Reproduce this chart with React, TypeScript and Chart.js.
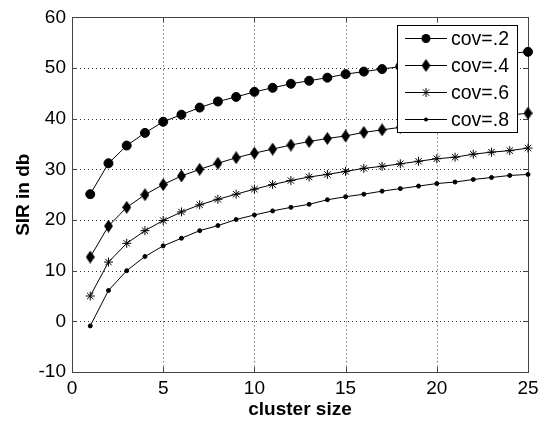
import React, { useEffect, useRef } from "react";
import { Chart, registerables } from "chart.js";

Chart.register(...registerables);

const clusterSizes = [1, 2, 3, 4, 5, 6, 7, 8, 9, 10, 11, 12, 13, 14, 15, 16, 17, 18, 19, 20, 21, 22, 23, 24, 25];
const cov2 = [25.1, 31.2, 34.7, 37.2, 39.4, 40.8, 42.2, 43.4, 44.3, 45.3, 46.1, 46.9, 47.5, 48.1, 48.8, 49.3, 49.8, 50.3, 50.8, 51.3, 51.7, 52.1, 52.5, 52.9, 53.2];
const cov4 = [12.7, 18.8, 22.5, 25.0, 27.0, 28.7, 30.0, 31.2, 32.3, 33.2, 34.0, 34.8, 35.5, 36.1, 36.6, 37.3, 37.8, 38.3, 38.8, 39.2, 39.6, 40.0, 40.4, 40.7, 41.1];
const cov6 = [5.0, 11.7, 15.4, 17.9, 19.9, 21.6, 23.0, 24.1, 25.1, 26.1, 27.0, 27.8, 28.5, 29.0, 29.6, 30.2, 30.6, 31.1, 31.6, 32.1, 32.4, 33.0, 33.4, 33.7, 34.2];
const cov8 = [-0.9, 6.1, 10.0, 12.8, 14.9, 16.4, 17.9, 18.9, 20.1, 21.0, 21.8, 22.5, 23.1, 24.0, 24.6, 25.1, 25.7, 26.2, 26.7, 27.2, 27.5, 28.0, 28.4, 28.8, 29.0];
const seriesLabels = ["cov=.2", "cov=.4", "cov=.6", "cov=.8"];
const xTicks = [0, 5, 10, 15, 20, 25];
const yTicks = [-10, 0, 10, 20, 30, 40, 50, 60];
const xTitle = "cluster size";
const yTitle = "SIR in db";

const FONT = "'Liberation Sans', Arial, Helvetica, sans-serif";

function makeDiamond(): HTMLCanvasElement {
  const c = document.createElement("canvas");
  c.width = 9;
  c.height = 13;
  const g = c.getContext("2d")!;
  g.fillStyle = "#000";
  g.beginPath();
  g.moveTo(4.5, 0);
  g.lineTo(9, 6.5);
  g.lineTo(4.5, 13);
  g.lineTo(0, 6.5);
  g.closePath();
  g.fill();
  return c;
}

function drawMarker(ctx: CanvasRenderingContext2D, kind: number, x: number, y: number, diamond: HTMLCanvasElement) {
  ctx.save();
  ctx.fillStyle = "#000";
  ctx.strokeStyle = "#000";
  ctx.lineWidth = 1;
  if (kind === 0) {
    ctx.beginPath();
    ctx.arc(x, y, 4.5, 0, Math.PI * 2);
    ctx.fill();
  } else if (kind === 1) {
    ctx.drawImage(diamond, x - diamond.width / 2, y - diamond.height / 2);
  } else if (kind === 2) {
    const r = 4.5;
    ctx.beginPath();
    ctx.moveTo(x - r, y);
    ctx.lineTo(x + r, y);
    ctx.moveTo(x, y - r);
    ctx.lineTo(x, y + r);
    const d = r * Math.SQRT1_2;
    ctx.moveTo(x - d, y - d);
    ctx.lineTo(x + d, y + d);
    ctx.moveTo(x - d, y + d);
    ctx.lineTo(x + d, y - d);
    ctx.stroke();
  } else {
    ctx.beginPath();
    ctx.arc(x, y, 2, 0, Math.PI * 2);
    ctx.fill();
  }
  ctx.restore();
}

export default function App() {
  const ref = useRef<HTMLCanvasElement | null>(null);

  useEffect(() => {
    if (!ref.current) return;
    const diamond = makeDiamond();
    const allSeries = [cov2, cov4, cov6, cov8];
    const styles: any[] = ["circle", diamond, "star", "circle"];
    const radii = [4.5, 5, 4.5, 2];

    const datasets = allSeries.map((s, i) => ({
      label: seriesLabels[i],
      data: clusterSizes.map((c, j) => ({ x: c, y: s[j] })),
      borderColor: "#000",
      backgroundColor: "#000",
      borderWidth: 1,
      pointStyle: styles[i],
      pointRadius: radii[i],
      pointBorderColor: "#000",
      pointBackgroundColor: "#000",
      pointBorderWidth: 1,
      showLine: true,
      tension: 0,
      clip: false as any,
    }));

    const framePlugin = {
      id: "frame",
      beforeDatasetsDraw(chart: any) {
        const { ctx, chartArea } = chart;
        const { left, right, top, bottom } = chartArea;
        const xs = chart.scales.x;
        const ys = chart.scales.y;
        ctx.save();
        ctx.strokeStyle = "#333";
        ctx.lineWidth = 1;
        ctx.setLineDash([1, 3]);
        xTicks.forEach((v) => {
          const px = Math.round(xs.getPixelForValue(v)) + 0.5;
          if (v === xTicks[0] || v === xTicks[xTicks.length - 1]) return;
          ctx.beginPath();
          ctx.moveTo(px, top);
          ctx.lineTo(px, bottom);
          ctx.stroke();
        });
        yTicks.forEach((v) => {
          const py = Math.round(ys.getPixelForValue(v)) + 0.5;
          if (v === yTicks[0] || v === yTicks[yTicks.length - 1]) return;
          ctx.beginPath();
          ctx.moveTo(left, py);
          ctx.lineTo(right, py);
          ctx.stroke();
        });
        ctx.setLineDash([]);
        ctx.strokeStyle = "#444";
        ctx.strokeRect(Math.round(left) + 0.5, Math.round(top) + 0.5, Math.round(right - left), Math.round(bottom - top));
        const tl = 5;
        xTicks.forEach((v) => {
          const px = Math.round(xs.getPixelForValue(v)) + 0.5;
          ctx.beginPath();
          ctx.moveTo(px, bottom);
          ctx.lineTo(px, bottom - tl);
          ctx.moveTo(px, top);
          ctx.lineTo(px, top + tl);
          ctx.stroke();
        });
        yTicks.forEach((v) => {
          const py = Math.round(ys.getPixelForValue(v)) + 0.5;
          ctx.beginPath();
          ctx.moveTo(left, py);
          ctx.lineTo(left + tl, py);
          ctx.moveTo(right, py);
          ctx.lineTo(right - tl, py);
          ctx.stroke();
        });
        ctx.restore();
      },
      afterDatasetsDraw(chart: any) {
        const { ctx, chartArea } = chart;
        const boxRight = chartArea.right - 11;
        const boxTop = chartArea.top + 8;
        const w = 120;
        const h = 107;
        const boxLeft = boxRight - w;
        ctx.save();
        ctx.fillStyle = "#fff";
        ctx.fillRect(boxLeft, boxTop, w, h);
        ctx.strokeStyle = "#000";
        ctx.lineWidth = 1;
        ctx.strokeRect(Math.round(boxLeft) + 0.5, Math.round(boxTop) + 0.5, w, h);
        ctx.font = `19.5px ${FONT}`;
        ctx.textBaseline = "middle";
        ctx.textAlign = "left";
        seriesLabels.forEach((lab, i) => {
          const yy = Math.round(boxTop + 13 + i * 27) + 0.5;
          ctx.strokeStyle = "#000";
          ctx.beginPath();
          ctx.moveTo(boxLeft + 8, yy);
          ctx.lineTo(boxLeft + 50, yy);
          ctx.stroke();
          drawMarker(ctx, i, boxLeft + 29, yy, diamond);
          ctx.fillStyle = "#000";
          ctx.fillText(lab, boxLeft + 54, yy + 1);
        });
        ctx.restore();
      },
    };

    const chart = new Chart(ref.current, {
      type: "line",
      data: { datasets },
      options: {
        animation: false,
        responsive: false,
        maintainAspectRatio: false,
        layout: { padding: { left: 0, right: 16, top: 15, bottom: 0 } },
        plugins: { legend: { display: false }, tooltip: { enabled: false } },
        scales: {
          x: {
            type: "linear",
            min: 0,
            max: 25,
            afterBuildTicks: (s: any) => {
              s.ticks = xTicks.map((v) => ({ value: v }));
            },
            afterFit: (s: any) => {
              s.height = 49;
            },
            grid: { display: false, drawTicks: false },
            border: { display: false },
            ticks: {
              color: "#000",
              font: { family: FONT, size: 19 },
              padding: 5,
              maxRotation: 0,
              autoSkip: false,
            },
            title: {
              display: true,
              text: xTitle,
              color: "#000",
              font: { family: FONT, size: 19, weight: "bold" },
              padding: { top: 0, bottom: 0 },
            },
          },
          y: {
            type: "linear",
            min: -10,
            max: 60,
            afterBuildTicks: (s: any) => {
              s.ticks = yTicks.map((v) => ({ value: v }));
            },
            afterFit: (s: any) => {
              s.width = 72;
            },
            grid: { display: false, drawTicks: false },
            border: { display: false },
            ticks: {
              color: "#000",
              font: { family: FONT, size: 19 },
              padding: 6,
              autoSkip: false,
            },
            title: {
              display: true,
              text: yTitle,
              color: "#000",
              font: { family: FONT, size: 19, weight: "bold" },
              padding: { top: 12, bottom: 0 },
            },
          },
        },
      },
      plugins: [framePlugin],
    });
    return () => chart.destroy();
  }, []);

  return (
    <div style={{ position: "fixed", left: 0, top: 0, width: 544, height: 421, background: "#fff" }}>
      <canvas ref={ref} width={544} height={421} style={{ display: "block" }} />
    </div>
  );
}
